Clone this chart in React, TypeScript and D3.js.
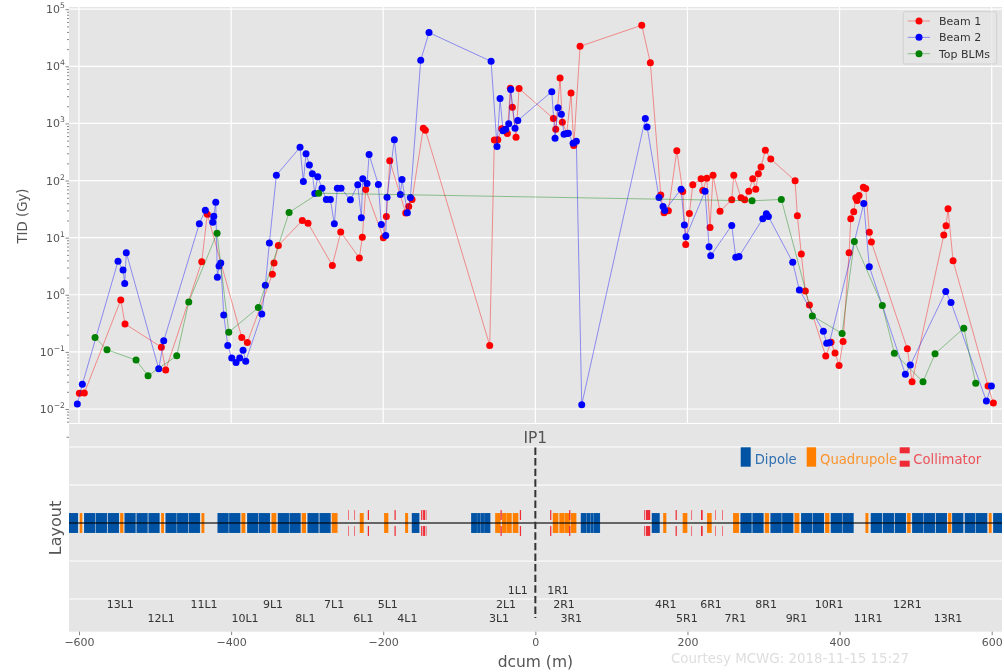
// App.tsx - TID along dcum with the machine layout below
import React, { useEffect, useRef } from 'react';
import * as d3 from 'd3';

const beam1Dcum = [-599.5, -593, -545.1, -539.5, -491.7, -486, -438.6, -431.3, -386, -378.7, -345.8, -343.6, -337.9, -306.4, -298.9, -266.9, -255.9, -231.4, -227.5, -223, -199.9, -195.9, -191.4, -170.4, -166.5, -162.1, -147.3, -144.6, -60, -53.9, -49.4, -44.2, -36.8, -32.9, -30.2, -25.4, -21.4, 23.7, 26.8, 32.5, 35.5, 41.3, 46.9, 50.5, 58.8, 139.9, 151.2, 164.9, 169.2, 174.9, 186, 193.8, 197.7, 202.5, 207, 217.9, 220.1, 225.4, 229.7, 233.6, 242.8, 258.2, 260.9, 270.4, 275.3, 280.6, 285.8, 289.8, 293.2, 296.7, 302.4, 309.5, 341.5, 344.5, 349.7, 355, 360.3, 381.8, 388.8, 394, 399.3, 404.6, 412.5, 414.7, 418.6, 421.3, 422.9, 425.6, 431.3, 434.4, 439.1, 441.8, 489.1, 495.3, 537, 540, 542.6, 549.2, 595.2, 602.2];
const beam1Tid = [0.0188, 0.019, 0.81, 0.309, 0.121, 0.048, 3.8, 25.8, 0.179, 0.146, 2.28, 3.59, 7.3, 20, 17.9, 3.27, 12.5, 4.4, 10.2, 69.7, 10, 23.5, 221, 26.9, 35.2, 46.6, 825, 760, 0.13, 515, 520, 810, 663, 4140, 1920, 574, 4080, 1220, 792, 6260, 1050, 668, 3420, 409, 22400, 52400, 11500, 56, 27.3, 29.6, 334, 64.3, 7.6, 26.5, 84, 108, 67, 110, 15.1, 124, 29, 46, 124, 49.9, 46, 65, 107, 70.5, 132, 173, 340, 239, 99, 24.2, 5.16, 1.16, 0.664, 0.0843, 0.148, 0.096, 0.058, 0.152, 5.46, 21.4, 28.4, 49.9, 44.8, 54.7, 76.4, 72.5, 12.4, 8.36, 0.113, 0.03, 11.1, 16.2, 32, 3.96, 0.0252, 0.0127];

const beam2Dcum = [-602.2, -595.6, -548.7, -542.1, -539.9, -537.8, -495.2, -488.6, -441.8, -433.9, -424.1, -422.8, -420.2, -418.1, -415.9, -413.6, -409.7, -404.4, -399.2, -393.5, -388.7, -384.3, -380.8, -359.7, -355, -349.7, -340.5, -309.4, -305, -301.5, -297.1, -293.2, -290, -286.1, -280.5, -274.8, -269.5, -264.3, -260.3, -255.5, -243.2, -233.5, -228.8, -226.9, -221.3, -218.6, -206.4, -202.5, -196.7, -195, -185.4, -177.5, -175.3, -168.3, -164.3, -150.7, -139.8, -58.2, -50.4, -46.4, -42.5, -38.9, -35, -32.3, -26.7, -23.1, 21.6, 25.9, 29.8, 34.2, 37.7, 41.3, 43.4, 49.6, 53.9, 61, 144.6, 146.9, 162.6, 167.9, 170.1, 191.6, 195.9, 198.1, 223.1, 228.4, 230.6, 258.2, 263.5, 267.8, 299, 303.7, 306.4, 338.4, 347.1, 378.7, 383.1, 386.6, 431.8, 439.1, 486.5, 493, 539.6, 546.5, 593, 599.6];
const beam2Tid = [0.0122, 0.027, 3.85, 2.71, 1.57, 5.46, 0.0506, 0.156, 17.5, 30.3, 18.7, 23.8, 41.8, 2.02, 3.18, 3.59, 0.444, 0.13, 0.0778, 0.0655, 0.0785, 0.107, 0.0689, 0.462, 1.47, 8.03, 124, 382, 96, 296, 188, 131, 59.3, 117, 73.4, 46.6, 46.6, 17.5, 73.4, 73.4, 46, 84, 22.3, 107, 88.7, 285, 85, 17, 10.9, 51, 520, 56.9, 104, 27.3, 50.5, 12750, 38900, 12230, 394, 2720, 748, 792, 990, 3910, 825, 1125, 3600, 551, 1890, 1455, 647, 663, 673, 451, 488, 0.0119, 1220, 868, 50.5, 35.2, 29.9, 70.5, 16.6, 10.4, 65, 6.95, 4.84, 16.4, 4.52, 4.7, 21.4, 26.2, 23.5, 3.7, 1.21, 0.23, 0.142, 0.144, 39.6, 3.11, 0.0404, 0.0587, 1.14, 0.731, 0.0138, 0.0252];

const blmDcum = [-578.9, -563.2, -525, -509.2, -471.5, -455.7, -418.5, -403.1, -364.2, -323.8, -284.8, 284.9, 323.4, 364.2, 403.3, 419.4, 456.2, 472, 509.7, 525.5, 563.3, 579];
const blmTid = [0.179, 0.109, 0.0718, 0.0382, 0.0853, 0.748, 12, 0.221, 0.597, 27.6, 60, 44.2, 46.6, 0.427, 0.21, 8.6, 0.647, 0.0951, 0.03, 0.0925, 0.26, 0.0281];

const seriesNames = ['Beam 1', 'Beam 2', 'Top BLMs'];
const seriesColors = ['#ff0000', '#0000ff', '#008000'];

const dipoles = [[-625, -601.2], [-593.4, -578.5], [-578, -563.1], [-562.2, -547.3], [-540.3, -525.4], [-524.5, -509.6], [-508.8, -493.9], [-486.4, -471.5], [-471.1, -456.2], [-455.7, -440.8], [-418, -403.1], [-402.7, -387.8], [-379, -364.1], [-363.7, -348.8], [-338.7, -323.8], [-323.4, -308.5], [-299.7, -284.8], [-283.9, -269], [-162.5, -152.4], [-84.5, -76.6], [-76.6, -71.8], [-71.8, -67.4], [-67.4, -59.1], [59.7, 67.6], [67.6, 72.4], [72.4, 76.8], [76.8, 85.1], [153, 163.6], [269.6, 284.5], [285.3, 300.2], [309, 323.9], [324.4, 339.3], [349.3, 364.2], [364.7, 379.6], [388.3, 403.2], [403.7, 418.6], [440.9, 455.8], [456.7, 471.6], [472.5, 487.4], [495.3, 510.2], [510.6, 525.5], [526.4, 541.3], [547.9, 562.8], [564.5, 578.5], [579, 594.3], [601.8, 625]];
const quadrupoles = [[-599.1, -595.6], [-546, -541.6], [-492.1, -488.2], [-439.1, -435.1], [-386.5, -381.2], [-347, -340.5], [-307.2, -301.5], [-267.7, -260], [-230.9, -225.6], [-198.9, -193.2], [-171.3, -167.3], [-52.9, -45.5], [-43.9, -37.6], [-37.6, -31], [-29.7, -22.3], [22.9, 30.3], [31.5, 38.6], [38.6, 45.7], [46.5, 54], [168, 172.3], [193.7, 199.9], [225.7, 231.9], [259.9, 267.8], [301.6, 307.3], [340.6, 347.1], [380.9, 386.6], [433.9, 437.9], [488.7, 493.5], [542.6, 547], [596.1, 600]];
const collimators = [[-246.2, -245.4], [-237.9, -237.1], [-220.3, -218.7], [-185.2, -183.6], [-150.2, -148.6], [-147.6, -145], [-144, -143.2], [-45.8, -44.2], [-20.4, -18.8], [19.4, 21], [44.4, 46], [143.2, 144.4], [145.5, 151], [184.4, 186], [205.2, 206], [217.8, 220], [236.7, 237.5], [245.5, 246.3]];

const cellNames = ['13L1', '12L1', '11L1', '10L1', '9L1', '8L1', '7L1', '6L1', '5L1', '4L1', '3L1', '2L1', '1L1', '1R1', '2R1', '3R1', '4R1', '5R1', '6R1', '7R1', '8R1', '9R1', '10R1', '11R1', '12R1', '13R1'];
const cellDcum = [-545.8, -492, -435.6, -381.7, -344.9, -302.4, -264.6, -226.1, -194.1, -168.3, -47.7, -38.5, -23.1, 29.8, 37.7, 47.2, 171.4, 199.2, 231, 263, 303.5, 343.3, 386.3, 437.5, 489.1, 542.6];
const cellRows = [-2.13, -2.5, -2.13, -2.5, -2.13, -2.5, -2.13, -2.5, -2.13, -2.5, -2.5, -2.13, -1.76, -1.76, -2.13, -2.5, -2.13, -2.5, -2.13, -2.5, -2.13, -2.5, -2.13, -2.5, -2.13, -2.5];

const xTicks = [-600, -400, -200, 0, 200, 400, 600];
const tidDecades = [-2, -1, 0, 1, 2, 3, 4, 5];
const belowDecadeTicks = [0.006, 0.007, 0.008, 0.009];
const layoutGrid = [-2, -1, 1, 2];
const layoutTicks = [2.27];

const FONT = '"DejaVu Sans", sans-serif';
const DIPOLE = '#0053a4';
const QUAD = '#ff7f00';
const COLL = '#ee2a35';

const minus = (s: string) => s.replace('-', '\u2212');

const App = () => {
    const svgRef = useRef<SVGSVGElement>(null);

    useEffect(() => {
        const svg = d3.select(svgRef.current);
        svg.selectAll('*').remove();

        const left = 69;
        const right = 1002;
        const x = d3.scaleLinear().domain([-600, 600]).range([79, 991.7]);
        const y = d3.scaleLog().domain([1e-2, 1e5]).range([409, 9.2]);
        const ly = d3.scaleLinear().domain([-1, 1]).range([561, 485]);

        // panels
        svg.append('rect').attr('x', left).attr('y', 7).attr('width', right - left).attr('height', 416).attr('fill', '#e5e5e5');
        svg.append('rect').attr('x', left).attr('y', 424).attr('width', right - left).attr('height', 207.7).attr('fill', '#e5e5e5');

        // grid
        const grid = svg.append('g').attr('stroke', '#fff').attr('stroke-width', 1.2);
        xTicks.forEach(t => grid.append('line').attr('x1', x(t)).attr('x2', x(t)).attr('y1', 7).attr('y2', 423));
        tidDecades.forEach(d => grid.append('line').attr('x1', left).attr('x2', right).attr('y1', y(10 ** d)).attr('y2', y(10 ** d)));
        layoutGrid.forEach(g => grid.append('line').attr('x1', left).attr('x2', right).attr('y1', ly(g)).attr('y2', ly(g)));

        // TID axis
        const minorTicks = tidDecades.slice(0, -1).flatMap(d => d3.range(2, 10).map(m => m * 10 ** d)).concat(belowDecadeTicks);
        const axisY = svg.append('g').attr('transform', `translate(${left},0)`);
        axisY.call(d3.axisLeft(y).tickValues(minorTicks).tickSize(2).tickFormat(() => ''));
        const axisYMajor = svg.append('g').attr('transform', `translate(${left},0)`);
        axisYMajor.call(d3.axisLeft(y).tickValues(tidDecades.map(d => 10 ** d)).tickSize(3.5).tickFormat(() => ''));
        const axisLayout = svg.append('g').attr('transform', `translate(${left},0)`);
        axisLayout.call(d3.axisLeft(ly).tickValues(layoutTicks).tickSize(2.5).tickFormat(() => ''));
        [axisY, axisYMajor, axisLayout].forEach(g => {
            g.select('.domain').remove();
            g.selectAll('line').attr('stroke', '#555').attr('stroke-width', 0.7);
        });
        tidDecades.forEach(d => {
            const label = svg.append('text').attr('x', 65).attr('y', y(10 ** d) + 4)
                .attr('text-anchor', 'end').attr('font-family', FONT).attr('font-size', 11).attr('fill', '#555');
            label.append('tspan').text('10');
            label.append('tspan').attr('dy', -5).attr('font-size', 7.7).text(minus(String(d)));
        });

        // series, Beam 1 at the back and the BLMs on top
        const series = [[beam1Dcum, beam1Tid], [beam2Dcum, beam2Tid], [blmDcum, blmTid]];
        const line = d3.line<number[]>().x(d => x(d[0])).y(d => y(d[1]));
        series.forEach(([xs, ys], i) => {
            const points = xs.map((v, k) => [v, ys[k]]);
            svg.append('path').attr('d', line(points)).attr('fill', 'none')
                .attr('stroke', seriesColors[i]).attr('stroke-width', 0.8).attr('stroke-opacity', 0.5);
            svg.append('g').selectAll('circle').data(points).enter().append('circle')
                .attr('cx', d => x(d[0])).attr('cy', d => y(d[1])).attr('r', 3.5).attr('fill', seriesColors[i]);
        });

        // legend
        const legend = svg.append('g');
        legend.append('rect').attr('x', 903.3).attr('y', 11.7).attr('width', 93.4).attr('height', 52.3).attr('rx', 2)
            .attr('fill', '#e5e5e5').attr('fill-opacity', 0.8).attr('stroke', '#ccc').attr('stroke-width', 0.8);
        seriesNames.forEach((name, i) => {
            const ey = 21 + i * 16.35;
            legend.append('line').attr('x1', 907.7).attr('x2', 930).attr('y1', ey).attr('y2', ey)
                .attr('stroke', seriesColors[i]).attr('stroke-width', 0.8).attr('stroke-opacity', 0.5);
            legend.append('circle').attr('cx', 919).attr('cy', ey).attr('r', 3.5).attr('fill', seriesColors[i]);
            legend.append('text').attr('x', 939).attr('y', ey + 4).attr('font-family', FONT).attr('font-size', 11)
                .attr('fill', '#333').text(name);
        });

        // layout panel
        const clip = svg.append('clipPath').attr('id', 'layout-clip');
        clip.append('rect').attr('x', left).attr('y', 424).attr('width', right - left).attr('height', 207.7);
        const layout = svg.append('g').attr('clip-path', 'url(#layout-clip)');
        const magnets = (items: number[][], fill: string) => {
            layout.append('g').selectAll('rect').data(items).enter().append('rect')
                .attr('x', d => x(d[0])).attr('width', d => x(d[1]) - x(d[0]))
                .attr('y', ly(0.263)).attr('height', ly(-0.263) - ly(0.263))
                .attr('fill', fill).attr('stroke', '#fff').attr('stroke-opacity', 0.15).attr('stroke-width', 0.5);
        };
        magnets(dipoles, DIPOLE);
        magnets(quadrupoles, QUAD);
        [[0.08, 0.34], [-0.34, -0.08]].forEach(([lo, hi]) => {
            layout.append('g').selectAll('rect').data(collimators).enter().append('rect')
                .attr('x', d => x(d[0])).attr('width', d => x(d[1]) - x(d[0]))
                .attr('y', ly(hi)).attr('height', ly(lo) - ly(hi)).attr('fill', COLL);
        });
        layout.append('line').attr('x1', left).attr('x2', right).attr('y1', ly(0)).attr('y2', ly(0))
            .attr('stroke', '#000').attr('stroke-width', 1.6).attr('stroke-opacity', 0.75);

        // IP1 marker
        svg.append('line').attr('x1', x(0)).attr('x2', x(0)).attr('y1', 447.5).attr('y2', 618)
            .attr('stroke', '#333').attr('stroke-width', 2).attr('stroke-dasharray', '7.4,3.2');
        svg.append('text').attr('x', x(0)).attr('y', 443).attr('text-anchor', 'middle')
            .attr('font-family', FONT).attr('font-size', 15.5).attr('fill', '#555').text('IP1');

        // cell names
        svg.append('g').selectAll('text').data(cellNames).enter().append('text')
            .attr('x', (d, i) => x(cellDcum[i])).attr('y', (d, i) => ly(cellRows[i]) + 4)
            .attr('text-anchor', 'middle').attr('font-family', FONT).attr('font-size', 11).attr('fill', '#333')
            .text(d => d);

        // layout legend
        const key = svg.append('g').attr('font-family', FONT).attr('font-size', 13.2);
        key.append('rect').attr('x', 740.7).attr('y', 447.3).attr('width', 10).attr('height', 19.4).attr('fill', DIPOLE);
        key.append('text').attr('x', 754.7).attr('y', 464).attr('fill', DIPOLE).attr('fill-opacity', 0.8).text('Dipole');
        key.append('rect').attr('x', 806.7).attr('y', 447.3).attr('width', 9.4).attr('height', 19.4).attr('fill', QUAD);
        key.append('text').attr('x', 820).attr('y', 464).attr('fill', QUAD).attr('fill-opacity', 0.8).text('Quadrupole');
        key.append('rect').attr('x', 899.7).attr('y', 447.3).attr('width', 10).attr('height', 6).attr('fill', COLL);
        key.append('rect').attr('x', 899.7).attr('y', 460.7).attr('width', 10).attr('height', 6).attr('fill', COLL);
        key.append('text').attr('x', 913.3).attr('y', 464).attr('fill', COLL).attr('fill-opacity', 0.8).text('Collimator');

        // x axis
        const axisX = svg.append('g').attr('transform', 'translate(0,631.7)');
        axisX.call(d3.axisBottom(x).tickValues(xTicks).tickSize(3.5).tickPadding(3.5).tickFormat(d => minus(String(d))));
        axisX.select('.domain').remove();
        axisX.selectAll('line').attr('stroke', '#555').attr('stroke-width', 0.7);
        axisX.selectAll('text').attr('font-family', FONT).attr('font-size', 11).attr('fill', '#555');

        // titles
        svg.append('text').attr('transform', 'translate(26.5,216) rotate(-90)').attr('text-anchor', 'middle')
            .attr('font-family', FONT).attr('font-size', 13.3).attr('fill', '#555').text('TID (Gy)');
        svg.append('text').attr('transform', 'translate(61,528) rotate(-90)').attr('text-anchor', 'middle')
            .attr('font-family', FONT).attr('font-size', 16).attr('fill', '#555').text('Layout');
        svg.append('text').attr('x', x(0)).attr('y', 667).attr('text-anchor', 'middle')
            .attr('font-family', FONT).attr('font-size', 15.5).attr('fill', '#555').text('dcum (m)');
        svg.append('text').attr('x', 671).attr('y', 663).attr('font-family', FONT).attr('font-size', 13.4)
            .attr('fill', '#dedede').text('Courtesy MCWG: 2018-11-15 15:27');
    }, []);

    return (
        <svg
            ref={svgRef}
            width={1004}
            height={672}
            style={{ position: 'absolute', left: 0, top: 0, background: '#fff', filter: 'blur(0.5px)' }}
        />
    );
};

export default App;
